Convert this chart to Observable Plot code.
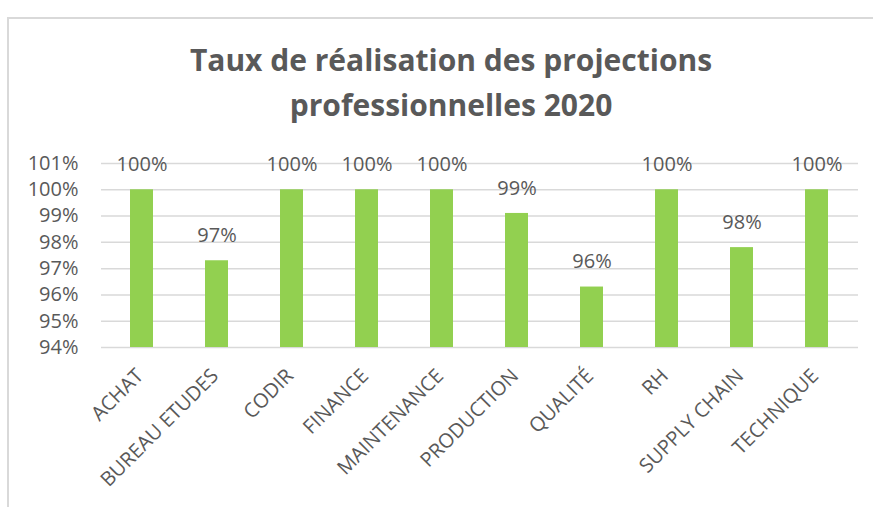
<!DOCTYPE html>
<html>
<head>
<meta charset="utf-8">
<script src="https://cdn.jsdelivr.net/npm/d3@7"></script>
<script src="https://cdn.jsdelivr.net/npm/@observablehq/plot@0.6"></script>
<style>
  html, body { margin: 0; padding: 0; background: #fff; }
  #wrap { position: relative; width: 873px; height: 507px; overflow: hidden; background: #fff; }
  #frame { position: absolute; left: 7px; top: 17px; width: 1000px; height: 600px;
           border-left: 2px solid #d9d9d9; border-top: 2px solid #d9d9d9; box-sizing: border-box; }
  #title { position: absolute; left: 0; top: 37px; width: 902px; text-align: center;
           font-family: "Open Sans", sans-serif; font-weight: bold; font-size: 30px;
           line-height: 45px; color: #595959; }
  #chart { position: absolute; left: 0; top: 0; }
</style>
</head>
<body>
<div id="wrap">
  <div id="frame"></div>
  <div id="chart"></div>
  <div id="title">Taux de réalisation des projections<br>professionnelles 2020</div>
</div>
<script>
const categories = ["ACHAT", "BUREAU ETUDES", "CODIR", "FINANCE", "MAINTENANCE", "PRODUCTION", "QUALITÉ", "RH", "SUPPLY CHAIN", "TECHNIQUE"];
const values = [100, 97.3, 100, 100, 100, 99.1, 96.3, 100, 97.8, 100];
const yTicks = [94, 95, 96, 97, 98, 99, 100, 101];
const yMin = 94;
const yMax = 101;

const data = categories.map((c, i) => ({cat: c, value: values[i]}));

const chart = Plot.plot({
  width: 873,
  height: 507,
  marginTop: 163,
  marginBottom: 160,
  marginLeft: 101,
  marginRight: 15,
  style: {fontFamily: "'Open Sans', sans-serif", fontSize: "20px", color: "#595959", background: "transparent"},
  x: {domain: categories, paddingInner: 0.69, paddingOuter: 0.345, axis: null},
  y: {domain: [yMin, yMax], axis: null},
  marks: [
    Plot.ruleY(yTicks, {stroke: "#d9d9d9", strokeWidth: 1.5}),
    Plot.barY(data, {x: "cat", y1: yMin, y2: "value", fill: "#92d050"}),
    Plot.text(data, {x: "cat", y: "value", text: d => Math.round(d.value) + "%", dy: -25, fill: "#595959", lineAnchor: "middle"}),
    Plot.axisY(yTicks, {tickSize: 0, tickPadding: 23, tickFormat: d => d + "%", fill: "#595959", label: null}),
    Plot.text(data, {x: "cat", text: "cat", frameAnchor: "bottom", rotate: -45, textAnchor: "end", lineAnchor: "middle", dx: -2, dy: 25, fill: "#595959"})
  ]
});
document.getElementById("chart").appendChild(chart);
</script>
</body>
</html>
